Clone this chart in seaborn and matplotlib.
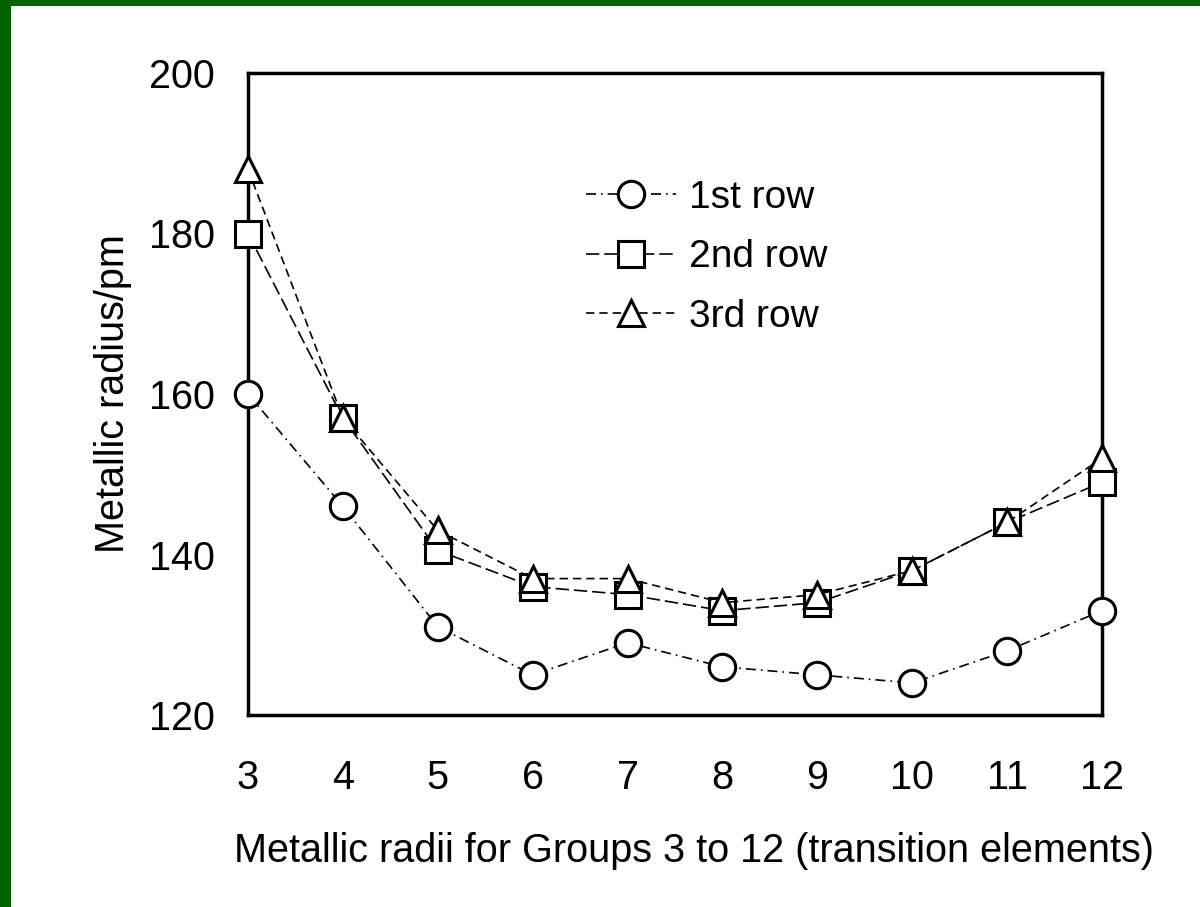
import matplotlib
matplotlib.use("Agg")
import matplotlib.pyplot as plt
import seaborn as sns
import pandas as pd
from matplotlib.patches import Rectangle
from matplotlib.lines import Line2D

groups = [3, 4, 5, 6, 7, 8, 9, 10, 11, 12]
row1 = [160, 146, 131, 125, 129, 126, 125, 124, 128, 133]
row2 = [180, 157, 140.5, 136, 135, 133, 134, 138, 144, 149]
row3 = [188, 157, 143, 137, 137, 134, 135, 138, 144, 152]
series_names = ["1st row", "2nd row", "3rd row"]
y_ticks = [120, 140, 160, 180, 200]

df = pd.DataFrame({
    "group": groups * 3,
    "radius": row1 + row2 + row3,
    "row": [series_names[0]] * 10 + [series_names[1]] * 10 + [series_names[2]] * 10,
})

sns.set_theme(style="white")
plt.rcParams["font.family"] = ["Liberation Sans", "DejaVu Sans"]
plt.rcParams["text.color"] = "black"

FS = 28.5

fig = plt.figure(figsize=(12, 9.07), dpi=100)
fig.patch.set_facecolor("white")
ax = fig.add_axes([248 / 1200, 1 - 715 / 907, (1102 - 248) / 1200, (715 - 73) / 907])

markers = {"1st row": "o", "2nd row": "s", "3rd row": "^"}
dashes = {"1st row": (6, 3, 1, 3), "2nd row": (8, 3), "3rd row": (5, 3)}
palette = {n: "black" for n in series_names}

sns.lineplot(data=df, x="group", y="radius", hue="row", style="row",
             markers=markers, dashes=dashes, palette=palette, ax=ax,
             linewidth=1.2, markersize=19, markerfacecolor="white",
             markeredgecolor="black", markeredgewidth=2.2, legend=False)
for ln in ax.lines:
    ln.set_clip_on(False)
    ln.set_zorder(5)

handles = [Line2D([0], [0], color="black", lw=1.2, dashes=dashes[n], marker=markers[n],
                  markersize=19, markerfacecolor="white", markeredgecolor="black",
                  markeredgewidth=2.2) for n in series_names]
leg = ax.legend(handles, series_names, loc="upper left", bbox_to_anchor=(0.355, 0.888),
                frameon=False, fontsize=FS - 0.5, handlelength=2.3, labelspacing=0.6,
                handletextpad=0.35)
for t in leg.get_texts():
    t.set_color("black")

ax.set_xlim(3, 12)
ax.set_ylim(120, 200)
ax.set_xticks(groups)
ax.set_yticks(y_ticks)
ax.tick_params(axis="both", direction="in", length=7, width=1.5, labelsize=FS,
               colors="black")
ax.tick_params(axis="x", pad=32)
ax.tick_params(axis="y", pad=24)
for s in ax.spines.values():
    s.set_linewidth(2.5)
    s.set_color("black")
    s.set_visible(True)

ax.set_xlabel("Metallic radii for Groups 3 to 12 (transition elements)", fontsize=FS,
              labelpad=25, color="black", x=0.522)
ax.set_ylabel("Metallic radius/pm", fontsize=FS, labelpad=12, color="black")

fig.patches.append(Rectangle((0, 0), 11 / 1200, 1, transform=fig.transFigure,
                             facecolor="#006400", edgecolor="none", zorder=10))
fig.patches.append(Rectangle((0, 1 - 6 / 907), 1, 6 / 907, transform=fig.transFigure,
                             facecolor="#006400", edgecolor="none", zorder=10))

fig.savefig("out.png", dpi=100, facecolor="white")
